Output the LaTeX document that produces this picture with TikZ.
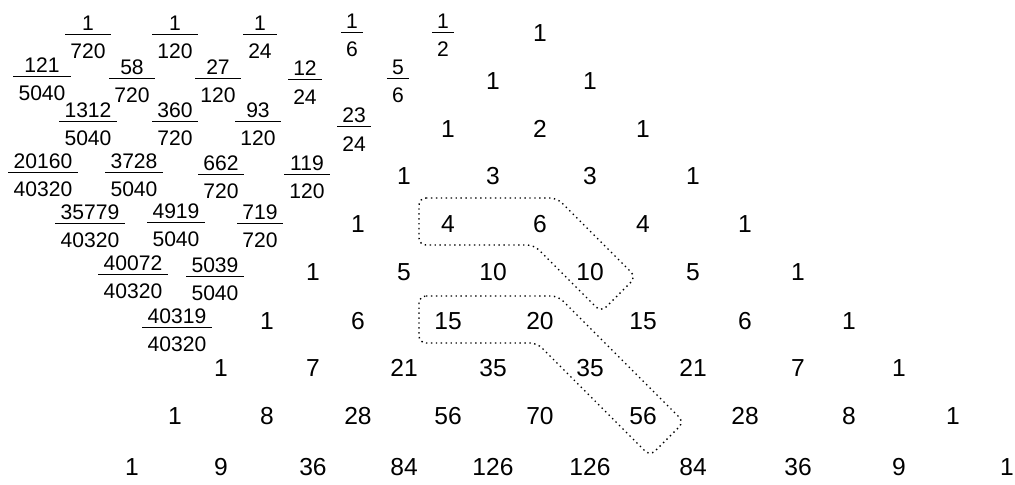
\documentclass[tikz,border=0pt]{standalone}
\usepackage{fontspec}
\setmainfont{Liberation Sans}
\usetikzlibrary{calc}
% stacked fraction with text digits
\newcommand{\frc}[2]{{\renewcommand{\arraystretch}{0}%
  \begin{tabular}{@{\hspace{3pt}}c@{\hspace{3pt}}}\rule[-2pt]{0pt}{8.6pt}#1\\\hline\rule{0pt}{13.6pt}#2\end{tabular}}}

\begin{document}
\begin{tikzpicture}[x=0.02cm, y=-0.02cm,
  pnum/.style={font=\fontsize{14}{16}\selectfont, inner sep=0pt},
  frac/.style={font=\fontsize{12}{14}\selectfont, inner sep=0pt, yshift=-1.5pt},
  hook/.style={dash pattern=on 0.8pt off 2pt, line width=0.8pt, rounded corners=4pt}]
  \useasboundingbox[fill=white] (0,0) rectangle (1015,484);
  % Pascal triangle
  \def\colx{{132,175,221,267,313,358,404,448,493,540,590,643,693,745,798,849,899,953,1007}}
  \def\rowy{{33,81,129,176,224,272,321,368,416,467}}
  \foreach \vals [count=\n from 0] in {{1},{1,1},{1,2,1},{1,3,3,1},{1,4,6,4,1},{1,5,10,10,5,1},
      {1,6,15,20,15,6,1},{1,7,21,35,35,21,7,1},{1,8,28,56,70,56,28,8,1},{1,9,36,84,126,126,84,36,9,1}} {
    \foreach \v [count=\k from 0] in \vals {
      \pgfmathsetmacro\xx{\colx[2*\k-\n+9]}
      \pgfmathsetmacro\yy{\rowy[\n]}
      \node[pnum] (p\n-\k) at (\xx,\yy) {\v};
    }
  }
  % fractions to the left
  \foreach \nm/\dn/\xx/\yy [count=\i] in {1/720/88/35, 1/120/175/35, 1/24/260/35, 1/6/352/33, 1/2/443/33,
      121/5040/42/77, 58/720/132/79, 27/120/218/79, 12/24/305/80, 5/6/398/79,
      1312/5040/88/122, 360/720/175/122, 93/120/258/122, 23/24/354/127,
      20160/40320/43/173, 3728/5040/134/173, 662/720/221/175, 119/120/307/175,
      35779/40320/90/224, 4919/5040/176/223, 719/720/260/224,
      40072/40320/133/275, 5039/5040/215/277,
      40319/40320/177/328}
    \node[frac] (f\i) at (\xx,\yy) {\frc{\nm}{\dn}};
  % dotted hockey sticks
  \draw[hook] (419,198) -- (557,198) -- (636,277) -- (601,312) -- (534,245) -- (419,245) -- cycle;
  \draw[hook] (419,296) -- (558,296) -- (684,422) -- (650,456) -- (537,343) -- (419,343) -- cycle;
\end{tikzpicture}
\end{document}
